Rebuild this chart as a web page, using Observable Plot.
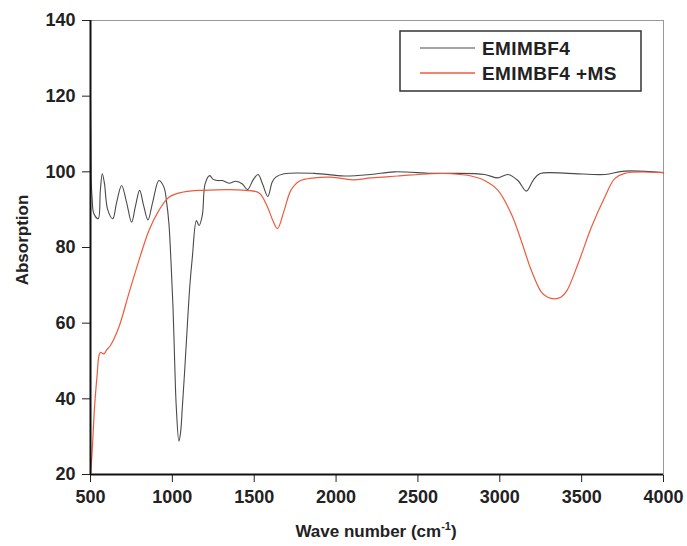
<!DOCTYPE html>
<html><head><meta charset="utf-8">
<script src="https://cdn.jsdelivr.net/npm/d3@7"></script>
<script src="https://cdn.jsdelivr.net/npm/@observablehq/plot@0.6"></script>
<style>body{margin:0;background:#fff}</style>
</head><body><div id="chart"></div>
<script>
// EMIMBF4 (black curve)
const wnEmim = [500,502,505,510,520,547,560,572,585,605,636,660,690,720,751,775,800,825,851,880,918,949,965,979,992,1004,1014,1024,1040,1050,1061,1076,1092,1107,1122,1147,1163,1183,1200,1228,1250,1275,1306,1346,1387,1428,1459,1495,1524,1551,1583,1610,1632,1683,1867,2050,2213,2356,2581,2703,2907,2989,3050,3111,3162,3203,3244,3417,3641,3763,4000];
const absEmim = [119,108,97,93,89,87.6,95,99.5,97,90,87.6,92,96.4,92,86.7,91,95.1,91,87.3,92,97.7,95.9,92,86.3,76,64.2,50,37.8,28.8,31,37.8,48,59.8,70,77.4,87.1,85.8,88.5,96.8,99.0,98,97.7,97.7,97.0,97.5,96.8,95.3,98,99.3,96.8,93.5,97.3,98.6,99.5,99.6,98.9,99.3,100.0,99.6,99.6,99.3,98.4,99.3,97.7,94.9,97.7,99.5,99.6,99.3,100.2,99.8];
// EMIMBF4 +MS (orange curve)
const wnEmimMs = [500,510,525,541,552,561,581,600,622,673,734,796,857,918,979,1061,1183,1448,1530,1581,1615,1642,1683,1724,1775,1867,1969,2101,2213,2377,2581,2703,2825,2907,2989,3070,3131,3193,3254,3290,3335,3375,3410,3478,3560,3641,3702,3763,4000];
const absEmimMs = [20,26,38,46.6,51.5,52.3,51.9,53,54.1,58.9,67.8,76.6,84.5,89.8,93.3,94.6,95.1,95.1,94.4,90.7,87,85.0,89.8,95.1,97.5,98.4,98.6,97.9,98.4,98.9,99.5,99.5,98.9,97.7,95.1,88.9,81.8,73.9,68.2,66.9,66.4,66.9,68.6,75.7,85.4,93.3,98.2,99.6,99.8];

const xTicks = [500,1000,1500,2000,2500,3000,3500,4000];
const yTicks = [20,40,60,80,100,120,140];
const seriesNames = ["EMIMBF4","EMIMBF4 +MS"];
const seriesColors = ["#4a4a4a","#ef5a3c"];
const xTitle = ["Wave number (cm", "-1", ")"];
const yTitle = "Absorption";

const rowsEmim = wnEmim.map((x,i)=>({x, y: absEmim[i], s: seriesNames[0]}));
const rowsEmimMs = wnEmimMs.map((x,i)=>({x, y: absEmimMs[i], s: seriesNames[1]}));

const W = 687, H = 546;
const plot = Plot.plot({
  width: W, height: H,
  marginLeft: 90, marginRight: 24, marginTop: 20, marginBottom: 72,
  style: {fontFamily: "'Liberation Sans', Arial, sans-serif", fontSize: "18px", fontWeight: "bold", color: "#222", background: "#fff"},
  x: {domain: [500,4000], ticks: xTicks, tickSize: 8, tickPadding: 8, label: null, tickFormat: d => `${d}`},
  y: {domain: [20,140], ticks: yTicks, tickSize: 8, tickPadding: 7, label: null, tickFormat: d => `${d}`},
  marks: [
    Plot.frame({stroke: "#999", strokeWidth: 1}),
    Plot.line(rowsEmim, {x: "x", y: "y", stroke: seriesColors[0], strokeWidth: 1.1, curve: "catmull-rom"}),
    Plot.line(rowsEmimMs, {x: "x", y: "y", stroke: seriesColors[1], strokeWidth: 1.2, curve: "catmull-rom"}),
    Plot.ruleX([500], {stroke: "#111", strokeWidth: 2}),
    Plot.ruleY([20], {stroke: "#111", strokeWidth: 2})
  ]
});
document.getElementById("chart").appendChild(plot);

const svg = d3.select(plot);
const ff = "'Liberation Sans', Arial, sans-serif";
// X title
const xt = svg.append("text").attr("x", 376).attr("y", 537).attr("text-anchor", "middle")
  .attr("font-family", ff).attr("font-weight", "bold").attr("font-size", 17).attr("fill", "#222");
xt.append("tspan").text(xTitle[0]);
xt.append("tspan").attr("dy", -7).attr("font-size", 11).text(xTitle[1]);
xt.append("tspan").attr("dy", 7).text(xTitle[2]);
// Y title
svg.append("text").attr("transform", "translate(28,240) rotate(-90)").attr("text-anchor", "middle")
  .attr("font-family", ff).attr("font-weight", "bold").attr("font-size", 17).attr("fill", "#222").text(yTitle);
// Legend
const lg = svg.append("g");
lg.append("rect").attr("x", 400).attr("y", 31).attr("width", 241).attr("height", 60)
  .attr("fill", "#fff").attr("stroke", "#333").attr("stroke-width", 1.5);
const legendY = [48, 73];
seriesNames.forEach((name, i) => {
  lg.append("line").attr("x1", 420).attr("x2", 475).attr("y1", legendY[i]).attr("y2", legendY[i])
    .attr("stroke", seriesColors[i]).attr("stroke-width", i ? 1.6 : 1.2);
  lg.append("text").attr("x", 482).attr("y", legendY[i] + 6.5).attr("text-anchor", "start")
    .attr("font-family", ff).attr("font-weight", "bold").attr("font-size", 19).attr("letter-spacing", 0.4)
    .attr("fill", "#222").text(name);
});
</script>
</body></html>
